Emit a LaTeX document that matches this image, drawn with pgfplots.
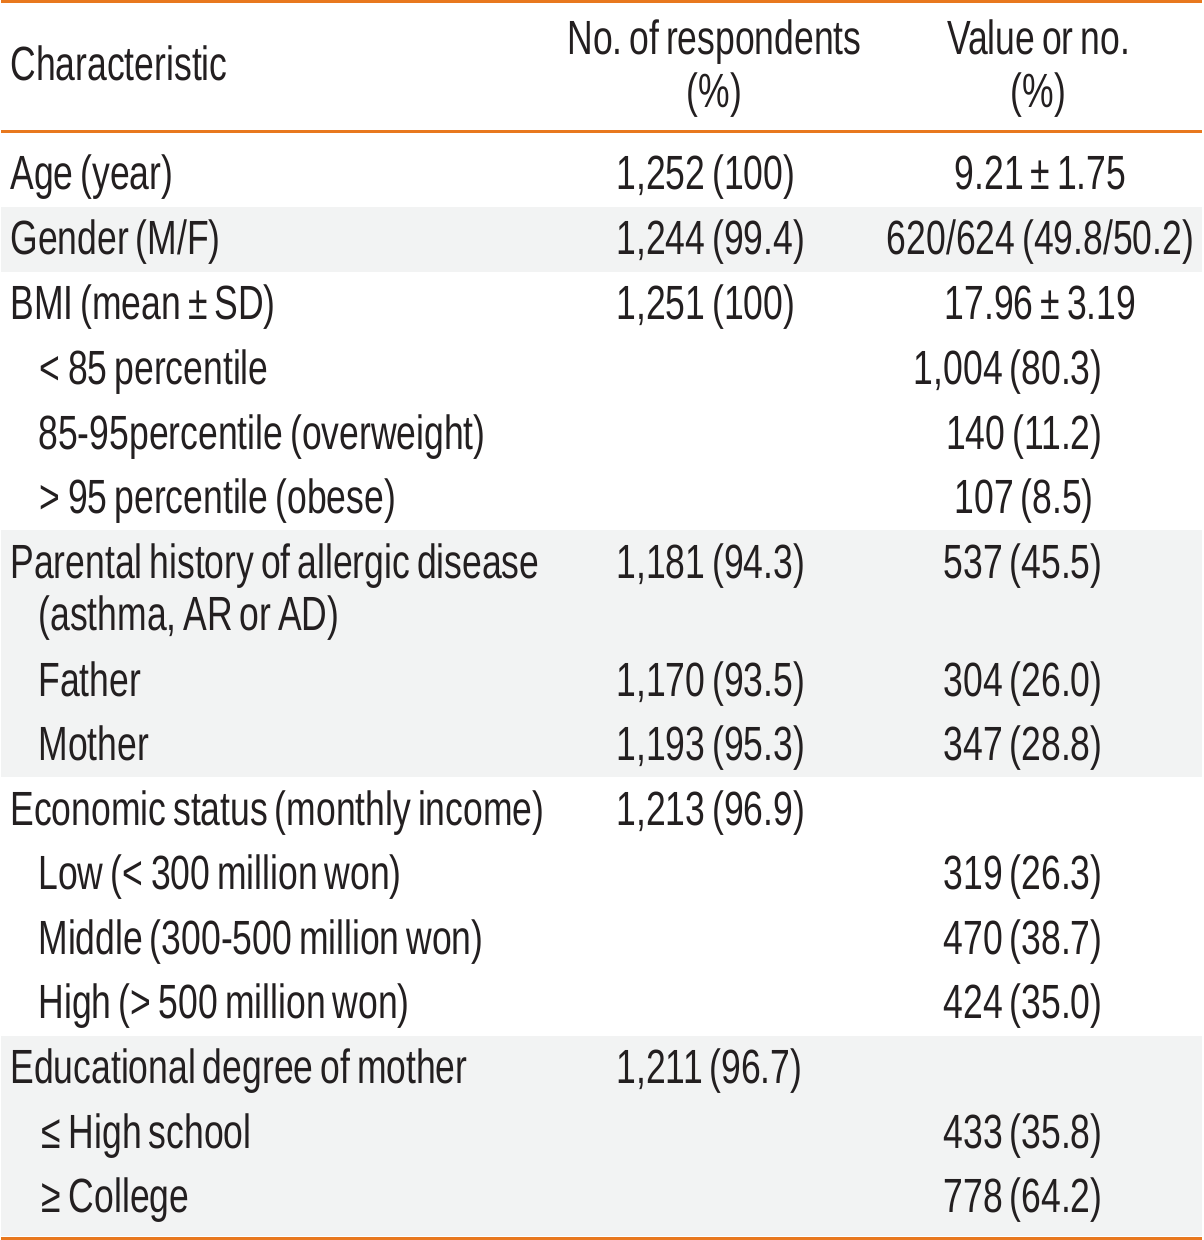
\documentclass[border=0pt]{standalone}
\usepackage{fontspec}
\setmainfont{Liberation Sans}[FakeStretch=0.74, WordSpace=0.7]
\usepackage{pgfplots}
\pgfplotsset{compat=1.18}
\definecolor{rulec}{HTML}{E8781E}
\definecolor{shade}{HTML}{F2F3F3}
\definecolor{txt}{HTML}{231F20}
\newcommand\tsz{\fontsize{24}{28}\selectfont\frenchspacing}
\pgfplotsset{
  txtplot/.style={draw=none, mark=none, nodes near coords, point meta=explicit symbolic,
    every node near coord/.style={anchor=#1, inner sep=0pt, outer sep=0pt, text=txt, font=\tsz}},
}
\begin{document}
\frenchspacing
\begin{tikzpicture}
\begin{axis}[
  scale only axis, width=600pt, height=620pt,
  xmin=0, xmax=1200, ymin=0, ymax=1240, y dir=reverse,
  hide axis, clip=false, enlargelimits=false,
]
% background
\addplot[draw=none, fill=white] coordinates {(0,0) (1200,0) (1200,1240) (0,1240)} -- cycle;
% shaded groups
\addplot[draw=none, fill=shade] coordinates {(0,207) (1200,207) (1200,272) (0,272)} -- cycle;
\addplot[draw=none, fill=shade] coordinates {(0,530) (1200,530) (1200,777) (0,777)} -- cycle;
\addplot[draw=none, fill=shade] coordinates {(0,1036) (1200,1036) (1200,1236) (0,1236)} -- cycle;
% rules
\addplot[rulec, line width=1.5pt] coordinates {(0,1.5) (1200,1.5)};
\addplot[rulec, line width=1.5pt] coordinates {(0,132) (1200,132)};
\addplot[rulec, line width=1.5pt] coordinates {(0,1238) (1200,1238)};
% header
\addplot[txtplot=base] table[col sep=semicolon, row sep=\\, x=x, y=y, meta=t]{
x;y;t\\
713;55;No.\ of respondents\\
713;108;(\%)\\
1037;55;Value or no.\\
1037;108;(\%)\\
};
\addplot[txtplot=base west] table[col sep=semicolon, row sep=\\, x=x, y=y, meta=t]{
x;y;t\\
9;81;Characteristic\\
9;190;Age (year)\\
9;255;Gender (M/F)\\
9;320;BMI (mean ± SD)\\
38;385;<\,85 percentile\\
37;449;85-95percentile (overweight)\\
38;513;>\,95 percentile (obese)\\
9;578;Parental history of allergic disease\\
37;630;(asthma, AR or AD)\\
37;696;Father\\
37;760;Mother\\
9;825;Economic status (monthly income)\\
37;889;Low (<\,300 million won)\\
37;954;Middle (300-500 million won)\\
37;1018;High (>\,500 million won)\\
9;1083;Educational degree of mother\\
40;1148;≤\,High school\\
40;1212;≥\,College\\
};
% column 2
\addplot[txtplot=base west] table[col sep=semicolon, row sep=\\, x=x, y=y, meta=t]{
x;y;t\\
615;190;1,252 (100)\\
615;255;1,244 (99.4)\\
615;320;1,251 (100)\\
615;578;1,181 (94.3)\\
615;696;1,170 (93.5)\\
615;760;1,193 (95.3)\\
615;825;1,213 (96.9)\\
615;1083;1,211 (96.7)\\
};
% column 3
\addplot[txtplot=base] table[col sep=semicolon, row sep=\\, x=x, y=y, meta=t]{
x;y;t\\
1039;190;9.21 ± 1.75\\
1039;255;620/624 (49.8/50.2)\\
1039;320;17.96 ± 3.19\\
};
\addplot[txtplot=base east] table[col sep=semicolon, row sep=\\, x=x, y=y, meta=t]{
x;y;t\\
1101;385;1,004 (80.3)\\
1101;449;140 (11.2)\\
1101;578;537 (45.5)\\
1101;696;304 (26.0)\\
1101;760;347 (28.8)\\
1101;889;319 (26.3)\\
1101;954;470 (38.7)\\
1101;1018;424 (35.0)\\
1101;1148;433 (35.8)\\
1101;1212;778 (64.2)\\
};
\addplot[txtplot=base west] table[col sep=semicolon, row sep=\\, x=x, y=y, meta=t]{
x;y;t\\
953;513;107 (8.5)\\
};
\end{axis}
\end{tikzpicture}
\end{document}
